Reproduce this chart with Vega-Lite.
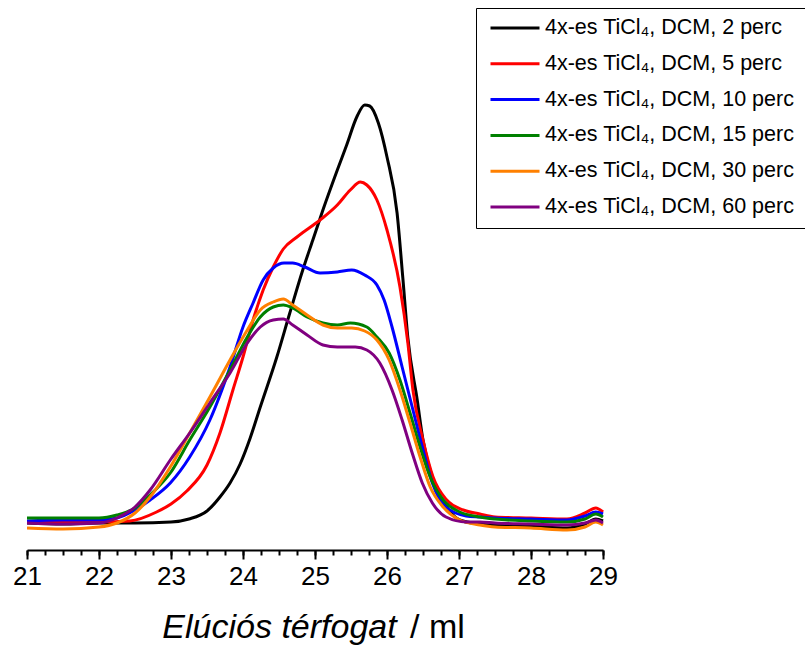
{
  "$schema": "https://vega.github.io/schema/vega-lite/v6.json",
  "width": 576,
  "height": 550,
  "autosize": {"type": "none"},
  "padding": {"left": 27, "top": 0, "right": 202, "bottom": 98},
  "background": "white",
  "config": {"view": {"stroke": null}, "font": "Liberation Sans"},
  "datasets": {
    "curves": [
      {"s":"4x-es TiCl₄, DCM, 2 perc","x":21,"y":27},{"s":"4x-es TiCl₄, DCM, 2 perc","x":21.5,"y":26},{"s":"4x-es TiCl₄, DCM, 2 perc","x":22,"y":27},{"s":"4x-es TiCl₄, DCM, 2 perc","x":22.5,"y":27},{"s":"4x-es TiCl₄, DCM, 2 perc","x":23,"y":28},{"s":"4x-es TiCl₄, DCM, 2 perc","x":23.25,"y":31},{"s":"4x-es TiCl₄, DCM, 2 perc","x":23.5,"y":39},{"s":"4x-es TiCl₄, DCM, 2 perc","x":23.68,"y":53},{"s":"4x-es TiCl₄, DCM, 2 perc","x":23.82,"y":67},{"s":"4x-es TiCl₄, DCM, 2 perc","x":23.96,"y":86},{"s":"4x-es TiCl₄, DCM, 2 perc","x":24.1,"y":112},{"s":"4x-es TiCl₄, DCM, 2 perc","x":24.24,"y":143},{"s":"4x-es TiCl₄, DCM, 2 perc","x":24.47,"y":193},{"s":"4x-es TiCl₄, DCM, 2 perc","x":24.65,"y":237},{"s":"4x-es TiCl₄, DCM, 2 perc","x":24.83,"y":280},{"s":"4x-es TiCl₄, DCM, 2 perc","x":24.97,"y":310},{"s":"4x-es TiCl₄, DCM, 2 perc","x":25.11,"y":340},{"s":"4x-es TiCl₄, DCM, 2 perc","x":25.31,"y":380},{"s":"4x-es TiCl₄, DCM, 2 perc","x":25.44,"y":405},{"s":"4x-es TiCl₄, DCM, 2 perc","x":25.58,"y":433},{"s":"4x-es TiCl₄, DCM, 2 perc","x":25.69,"y":445},{"s":"4x-es TiCl₄, DCM, 2 perc","x":25.76,"y":444},{"s":"4x-es TiCl₄, DCM, 2 perc","x":25.88,"y":427},{"s":"4x-es TiCl₄, DCM, 2 perc","x":26.0,"y":393},{"s":"4x-es TiCl₄, DCM, 2 perc","x":26.14,"y":337},{"s":"4x-es TiCl₄, DCM, 2 perc","x":26.22,"y":272},{"s":"4x-es TiCl₄, DCM, 2 perc","x":26.29,"y":212},{"s":"4x-es TiCl₄, DCM, 2 perc","x":26.42,"y":150},{"s":"4x-es TiCl₄, DCM, 2 perc","x":26.5,"y":110},{"s":"4x-es TiCl₄, DCM, 2 perc","x":26.64,"y":70},{"s":"4x-es TiCl₄, DCM, 2 perc","x":26.83,"y":43},{"s":"4x-es TiCl₄, DCM, 2 perc","x":27.01,"y":30},{"s":"4x-es TiCl₄, DCM, 2 perc","x":27.29,"y":26},{"s":"4x-es TiCl₄, DCM, 2 perc","x":27.5,"y":25},{"s":"4x-es TiCl₄, DCM, 2 perc","x":28,"y":24},{"s":"4x-es TiCl₄, DCM, 2 perc","x":28.5,"y":22},{"s":"4x-es TiCl₄, DCM, 2 perc","x":28.75,"y":26},{"s":"4x-es TiCl₄, DCM, 2 perc","x":28.9,"y":31},{"s":"4x-es TiCl₄, DCM, 2 perc","x":29,"y":29},

      {"s":"4x-es TiCl₄, DCM, 5 perc","x":21,"y":28},{"s":"4x-es TiCl₄, DCM, 5 perc","x":21.5,"y":28},{"s":"4x-es TiCl₄, DCM, 5 perc","x":22,"y":28},{"s":"4x-es TiCl₄, DCM, 5 perc","x":22.43,"y":29},{"s":"4x-es TiCl₄, DCM, 5 perc","x":22.8,"y":38},{"s":"4x-es TiCl₄, DCM, 5 perc","x":23.0,"y":46},{"s":"4x-es TiCl₄, DCM, 5 perc","x":23.22,"y":59},{"s":"4x-es TiCl₄, DCM, 5 perc","x":23.5,"y":85},{"s":"4x-es TiCl₄, DCM, 5 perc","x":23.68,"y":117},{"s":"4x-es TiCl₄, DCM, 5 perc","x":23.86,"y":160},{"s":"4x-es TiCl₄, DCM, 5 perc","x":24.0,"y":193},{"s":"4x-es TiCl₄, DCM, 5 perc","x":24.14,"y":230},{"s":"4x-es TiCl₄, DCM, 5 perc","x":24.28,"y":260},{"s":"4x-es TiCl₄, DCM, 5 perc","x":24.42,"y":283},{"s":"4x-es TiCl₄, DCM, 5 perc","x":24.56,"y":301},{"s":"4x-es TiCl₄, DCM, 5 perc","x":24.75,"y":313},{"s":"4x-es TiCl₄, DCM, 5 perc","x":25.07,"y":330},{"s":"4x-es TiCl₄, DCM, 5 perc","x":25.31,"y":345},{"s":"4x-es TiCl₄, DCM, 5 perc","x":25.49,"y":360},{"s":"4x-es TiCl₄, DCM, 5 perc","x":25.63,"y":368},{"s":"4x-es TiCl₄, DCM, 5 perc","x":25.72,"y":365},{"s":"4x-es TiCl₄, DCM, 5 perc","x":25.86,"y":350},{"s":"4x-es TiCl₄, DCM, 5 perc","x":26.0,"y":320},{"s":"4x-es TiCl₄, DCM, 5 perc","x":26.18,"y":263},{"s":"4x-es TiCl₄, DCM, 5 perc","x":26.29,"y":207},{"s":"4x-es TiCl₄, DCM, 5 perc","x":26.36,"y":160},{"s":"4x-es TiCl₄, DCM, 5 perc","x":26.5,"y":110},{"s":"4x-es TiCl₄, DCM, 5 perc","x":26.64,"y":73},{"s":"4x-es TiCl₄, DCM, 5 perc","x":26.83,"y":50},{"s":"4x-es TiCl₄, DCM, 5 perc","x":27.06,"y":40},{"s":"4x-es TiCl₄, DCM, 5 perc","x":27.29,"y":36},{"s":"4x-es TiCl₄, DCM, 5 perc","x":27.5,"y":33},{"s":"4x-es TiCl₄, DCM, 5 perc","x":28,"y":32},{"s":"4x-es TiCl₄, DCM, 5 perc","x":28.5,"y":31},{"s":"4x-es TiCl₄, DCM, 5 perc","x":28.75,"y":37},{"s":"4x-es TiCl₄, DCM, 5 perc","x":28.9,"y":42},{"s":"4x-es TiCl₄, DCM, 5 perc","x":29,"y":38},

      {"s":"4x-es TiCl₄, DCM, 10 perc","x":21,"y":29},{"s":"4x-es TiCl₄, DCM, 10 perc","x":21.5,"y":30},{"s":"4x-es TiCl₄, DCM, 10 perc","x":22,"y":30},{"s":"4x-es TiCl₄, DCM, 10 perc","x":22.25,"y":32},{"s":"4x-es TiCl₄, DCM, 10 perc","x":22.5,"y":40},{"s":"4x-es TiCl₄, DCM, 10 perc","x":22.71,"y":50},{"s":"4x-es TiCl₄, DCM, 10 perc","x":22.99,"y":67},{"s":"4x-es TiCl₄, DCM, 10 perc","x":23.26,"y":93},{"s":"4x-es TiCl₄, DCM, 10 perc","x":23.54,"y":130},{"s":"4x-es TiCl₄, DCM, 10 perc","x":23.82,"y":183},{"s":"4x-es TiCl₄, DCM, 10 perc","x":24.0,"y":223},{"s":"4x-es TiCl₄, DCM, 10 perc","x":24.14,"y":247},{"s":"4x-es TiCl₄, DCM, 10 perc","x":24.28,"y":270},{"s":"4x-es TiCl₄, DCM, 10 perc","x":24.42,"y":282},{"s":"4x-es TiCl₄, DCM, 10 perc","x":24.57,"y":287},{"s":"4x-es TiCl₄, DCM, 10 perc","x":24.69,"y":287},{"s":"4x-es TiCl₄, DCM, 10 perc","x":24.86,"y":283},{"s":"4x-es TiCl₄, DCM, 10 perc","x":25.07,"y":277},{"s":"4x-es TiCl₄, DCM, 10 perc","x":25.31,"y":278},{"s":"4x-es TiCl₄, DCM, 10 perc","x":25.51,"y":280},{"s":"4x-es TiCl₄, DCM, 10 perc","x":25.69,"y":275},{"s":"4x-es TiCl₄, DCM, 10 perc","x":25.86,"y":265},{"s":"4x-es TiCl₄, DCM, 10 perc","x":25.96,"y":250},{"s":"4x-es TiCl₄, DCM, 10 perc","x":26.07,"y":223},{"s":"4x-es TiCl₄, DCM, 10 perc","x":26.21,"y":183},{"s":"4x-es TiCl₄, DCM, 10 perc","x":26.35,"y":143},{"s":"4x-es TiCl₄, DCM, 10 perc","x":26.49,"y":103},{"s":"4x-es TiCl₄, DCM, 10 perc","x":26.63,"y":67},{"s":"4x-es TiCl₄, DCM, 10 perc","x":26.82,"y":43},{"s":"4x-es TiCl₄, DCM, 10 perc","x":27.1,"y":34},{"s":"4x-es TiCl₄, DCM, 10 perc","x":27.29,"y":33},{"s":"4x-es TiCl₄, DCM, 10 perc","x":27.5,"y":32},{"s":"4x-es TiCl₄, DCM, 10 perc","x":28,"y":31},{"s":"4x-es TiCl₄, DCM, 10 perc","x":28.5,"y":30},{"s":"4x-es TiCl₄, DCM, 10 perc","x":28.75,"y":34},{"s":"4x-es TiCl₄, DCM, 10 perc","x":28.9,"y":38},{"s":"4x-es TiCl₄, DCM, 10 perc","x":29,"y":36},

      {"s":"4x-es TiCl₄, DCM, 15 perc","x":21,"y":32},{"s":"4x-es TiCl₄, DCM, 15 perc","x":21.5,"y":32},{"s":"4x-es TiCl₄, DCM, 15 perc","x":22,"y":32},{"s":"4x-es TiCl₄, DCM, 15 perc","x":22.25,"y":35},{"s":"4x-es TiCl₄, DCM, 15 perc","x":22.5,"y":42},{"s":"4x-es TiCl₄, DCM, 15 perc","x":22.71,"y":55},{"s":"4x-es TiCl₄, DCM, 15 perc","x":22.99,"y":77},{"s":"4x-es TiCl₄, DCM, 15 perc","x":23.26,"y":110},{"s":"4x-es TiCl₄, DCM, 15 perc","x":23.54,"y":143},{"s":"4x-es TiCl₄, DCM, 15 perc","x":23.82,"y":180},{"s":"4x-es TiCl₄, DCM, 15 perc","x":24.06,"y":213},{"s":"4x-es TiCl₄, DCM, 15 perc","x":24.24,"y":233},{"s":"4x-es TiCl₄, DCM, 15 perc","x":24.42,"y":243},{"s":"4x-es TiCl₄, DCM, 15 perc","x":24.56,"y":245},{"s":"4x-es TiCl₄, DCM, 15 perc","x":24.69,"y":242},{"s":"4x-es TiCl₄, DCM, 15 perc","x":24.89,"y":233},{"s":"4x-es TiCl₄, DCM, 15 perc","x":25.11,"y":227},{"s":"4x-es TiCl₄, DCM, 15 perc","x":25.31,"y":225},{"s":"4x-es TiCl₄, DCM, 15 perc","x":25.49,"y":227},{"s":"4x-es TiCl₄, DCM, 15 perc","x":25.72,"y":223},{"s":"4x-es TiCl₄, DCM, 15 perc","x":25.86,"y":213},{"s":"4x-es TiCl₄, DCM, 15 perc","x":26.03,"y":197},{"s":"4x-es TiCl₄, DCM, 15 perc","x":26.18,"y":170},{"s":"4x-es TiCl₄, DCM, 15 perc","x":26.32,"y":137},{"s":"4x-es TiCl₄, DCM, 15 perc","x":26.46,"y":103},{"s":"4x-es TiCl₄, DCM, 15 perc","x":26.6,"y":73},{"s":"4x-es TiCl₄, DCM, 15 perc","x":26.78,"y":50},{"s":"4x-es TiCl₄, DCM, 15 perc","x":27.01,"y":38},{"s":"4x-es TiCl₄, DCM, 15 perc","x":27.29,"y":33},{"s":"4x-es TiCl₄, DCM, 15 perc","x":27.5,"y":31},{"s":"4x-es TiCl₄, DCM, 15 perc","x":28,"y":29},{"s":"4x-es TiCl₄, DCM, 15 perc","x":28.5,"y":28},{"s":"4x-es TiCl₄, DCM, 15 perc","x":28.75,"y":31},{"s":"4x-es TiCl₄, DCM, 15 perc","x":28.9,"y":36},{"s":"4x-es TiCl₄, DCM, 15 perc","x":29,"y":33},

      {"s":"4x-es TiCl₄, DCM, 30 perc","x":21,"y":22},{"s":"4x-es TiCl₄, DCM, 30 perc","x":21.5,"y":21},{"s":"4x-es TiCl₄, DCM, 30 perc","x":22,"y":23},{"s":"4x-es TiCl₄, DCM, 30 perc","x":22.25,"y":27},{"s":"4x-es TiCl₄, DCM, 30 perc","x":22.5,"y":37},{"s":"4x-es TiCl₄, DCM, 30 perc","x":22.71,"y":53},{"s":"4x-es TiCl₄, DCM, 30 perc","x":22.99,"y":83},{"s":"4x-es TiCl₄, DCM, 30 perc","x":23.26,"y":117},{"s":"4x-es TiCl₄, DCM, 30 perc","x":23.54,"y":153},{"s":"4x-es TiCl₄, DCM, 30 perc","x":23.82,"y":190},{"s":"4x-es TiCl₄, DCM, 30 perc","x":24.06,"y":220},{"s":"4x-es TiCl₄, DCM, 30 perc","x":24.24,"y":240},{"s":"4x-es TiCl₄, DCM, 30 perc","x":24.42,"y":248},{"s":"4x-es TiCl₄, DCM, 30 perc","x":24.56,"y":251},{"s":"4x-es TiCl₄, DCM, 30 perc","x":24.69,"y":245},{"s":"4x-es TiCl₄, DCM, 30 perc","x":24.89,"y":235},{"s":"4x-es TiCl₄, DCM, 30 perc","x":25.11,"y":225},{"s":"4x-es TiCl₄, DCM, 30 perc","x":25.31,"y":222},{"s":"4x-es TiCl₄, DCM, 30 perc","x":25.51,"y":222},{"s":"4x-es TiCl₄, DCM, 30 perc","x":25.69,"y":219},{"s":"4x-es TiCl₄, DCM, 30 perc","x":25.86,"y":210},{"s":"4x-es TiCl₄, DCM, 30 perc","x":26.03,"y":190},{"s":"4x-es TiCl₄, DCM, 30 perc","x":26.18,"y":160},{"s":"4x-es TiCl₄, DCM, 30 perc","x":26.32,"y":127},{"s":"4x-es TiCl₄, DCM, 30 perc","x":26.46,"y":93},{"s":"4x-es TiCl₄, DCM, 30 perc","x":26.6,"y":63},{"s":"4x-es TiCl₄, DCM, 30 perc","x":26.78,"y":43},{"s":"4x-es TiCl₄, DCM, 30 perc","x":27.01,"y":30},{"s":"4x-es TiCl₄, DCM, 30 perc","x":27.29,"y":25},{"s":"4x-es TiCl₄, DCM, 30 perc","x":27.5,"y":23},{"s":"4x-es TiCl₄, DCM, 30 perc","x":28,"y":22},{"s":"4x-es TiCl₄, DCM, 30 perc","x":28.5,"y":20},{"s":"4x-es TiCl₄, DCM, 30 perc","x":28.75,"y":23},{"s":"4x-es TiCl₄, DCM, 30 perc","x":28.9,"y":28},{"s":"4x-es TiCl₄, DCM, 30 perc","x":29,"y":25},

      {"s":"4x-es TiCl₄, DCM, 60 perc","x":21,"y":27},{"s":"4x-es TiCl₄, DCM, 60 perc","x":21.5,"y":26},{"s":"4x-es TiCl₄, DCM, 60 perc","x":22,"y":27},{"s":"4x-es TiCl₄, DCM, 60 perc","x":22.25,"y":32},{"s":"4x-es TiCl₄, DCM, 60 perc","x":22.5,"y":43},{"s":"4x-es TiCl₄, DCM, 60 perc","x":22.71,"y":60},{"s":"4x-es TiCl₄, DCM, 60 perc","x":22.99,"y":90},{"s":"4x-es TiCl₄, DCM, 60 perc","x":23.26,"y":117},{"s":"4x-es TiCl₄, DCM, 60 perc","x":23.54,"y":147},{"s":"4x-es TiCl₄, DCM, 60 perc","x":23.82,"y":177},{"s":"4x-es TiCl₄, DCM, 60 perc","x":24.06,"y":207},{"s":"4x-es TiCl₄, DCM, 60 perc","x":24.24,"y":223},{"s":"4x-es TiCl₄, DCM, 60 perc","x":24.42,"y":230},{"s":"4x-es TiCl₄, DCM, 60 perc","x":24.56,"y":231},{"s":"4x-es TiCl₄, DCM, 60 perc","x":24.69,"y":225},{"s":"4x-es TiCl₄, DCM, 60 perc","x":24.89,"y":215},{"s":"4x-es TiCl₄, DCM, 60 perc","x":25.11,"y":205},{"s":"4x-es TiCl₄, DCM, 60 perc","x":25.31,"y":203},{"s":"4x-es TiCl₄, DCM, 60 perc","x":25.56,"y":203},{"s":"4x-es TiCl₄, DCM, 60 perc","x":25.72,"y":200},{"s":"4x-es TiCl₄, DCM, 60 perc","x":25.9,"y":187},{"s":"4x-es TiCl₄, DCM, 60 perc","x":26.07,"y":160},{"s":"4x-es TiCl₄, DCM, 60 perc","x":26.21,"y":130},{"s":"4x-es TiCl₄, DCM, 60 perc","x":26.35,"y":97},{"s":"4x-es TiCl₄, DCM, 60 perc","x":26.49,"y":67},{"s":"4x-es TiCl₄, DCM, 60 perc","x":26.63,"y":47},{"s":"4x-es TiCl₄, DCM, 60 perc","x":26.82,"y":33},{"s":"4x-es TiCl₄, DCM, 60 perc","x":27.1,"y":28},{"s":"4x-es TiCl₄, DCM, 60 perc","x":27.29,"y":28},{"s":"4x-es TiCl₄, DCM, 60 perc","x":27.5,"y":27},{"s":"4x-es TiCl₄, DCM, 60 perc","x":28,"y":26},{"s":"4x-es TiCl₄, DCM, 60 perc","x":28.5,"y":25},{"s":"4x-es TiCl₄, DCM, 60 perc","x":28.75,"y":27},{"s":"4x-es TiCl₄, DCM, 60 perc","x":28.9,"y":30},{"s":"4x-es TiCl₄, DCM, 60 perc","x":29,"y":27}
    ]
  },
  "data": {"name": "curves"},
  "resolve": {"axis": {"x": "independent"}},
  "layer": [
    {
      "mark": {"type": "line", "opacity": 0},
      "encoding": {
        "x": {"field": "x", "type": "quantitative", "scale": {"domain": [21, 29], "nice": false, "zero": false},
          "axis": {"orient": "bottom", "values": [21,21.25,21.5,21.75,22,22.25,22.5,22.75,23,23.25,23.5,23.75,24,24.25,24.5,24.75,25,25.25,25.5,25.75,26,26.25,26.5,26.75,27,27.25,27.5,27.75,28,28.25,28.5,28.75,29],
            "tickSize": 5, "tickWidth": 2, "tickColor": "black", "labels": false, "domain": false, "grid": false,
            "title": "/ ml", "titleFontSize": 34, "titleFontWeight": "normal", "titleColor": "black",
            "titleX": 410, "titleY": 87, "titleBaseline": "alphabetic", "titleAlign": "center"}},
        "y": {"field": "y", "type": "quantitative", "scale": {"domain": [0, 550]}, "axis": null}
      }
    },
    {
      "mark": {"type": "line", "strokeWidth": 3, "interpolate": "monotone"},
      "encoding": {
        "x": {"field": "x", "type": "quantitative", "scale": {"domain": [21, 29], "nice": false, "zero": false},
          "axis": {"orient": "bottom", "values": [21,22,23,24,25,26,27,28,29], "tickSize": 9, "tickWidth": 2, "tickColor": "black",
            "domainWidth": 2, "domainColor": "black", "grid": false,
            "labelFontSize": 26, "labelColor": "black", "labelPadding": 4, "labelFlush": false,
            "title": "Elúciós térfogat", "titleFontSize": 34, "titleFontStyle": "italic", "titleFontWeight": "normal", "titleColor": "black",
            "titleX": 252, "titleY": 87, "titleBaseline": "alphabetic", "titleAlign": "center"}},
        "y": {"field": "y", "type": "quantitative", "scale": {"domain": [0, 550]}, "axis": null},
        "color": {"field": "s", "type": "nominal",
          "scale": {"domain": ["4x-es TiCl₄, DCM, 2 perc","4x-es TiCl₄, DCM, 5 perc","4x-es TiCl₄, DCM, 10 perc","4x-es TiCl₄, DCM, 15 perc","4x-es TiCl₄, DCM, 30 perc","4x-es TiCl₄, DCM, 60 perc"],
            "range": ["#000000","#ff0000","#0000ff","#008000","#ff8000","#800080"]},
          "legend": {"title": null, "orient": "none", "legendX": 449, "legendY": 8,
            "symbolType": "stroke", "symbolSize": 2401, "symbolStrokeWidth": 3, "symbolOffset": 3,
            "clipHeight": 20, "rowPadding": 13.8,
            "labelFontSize": 21.5, "labelColor": "black", "labelOffset": 4, "labelLimit": 400,
            "strokeColor": "black", "padding": 10}}
      }
    }
  ]
}
